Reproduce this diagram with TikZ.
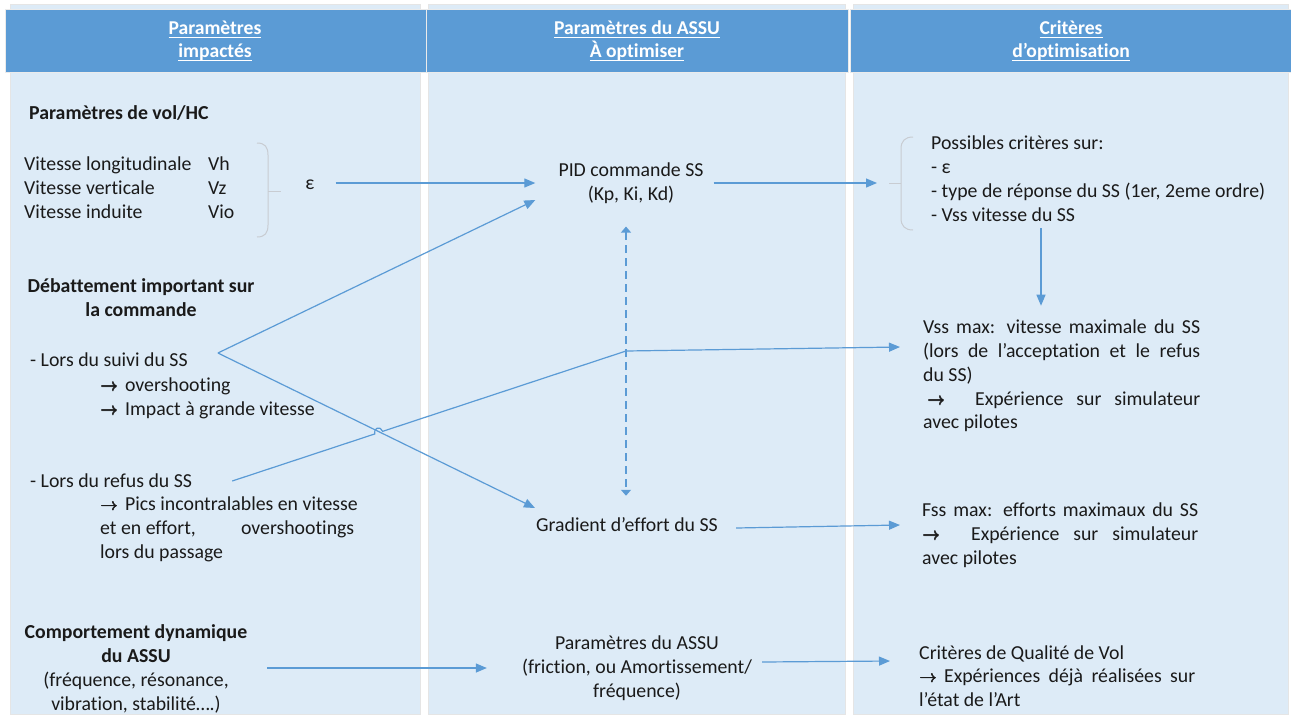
\documentclass[tikz,border=0pt]{standalone}
\usepackage{fontspec}
\setmainfont{Carlito}[Ligatures={NoCommon}]
\usetikzlibrary{arrows.meta,calc}
\definecolor{hdr}{HTML}{5B9BD5}
\definecolor{bgc}{HTML}{DDEBF7}
\definecolor{arrc}{HTML}{5B9BD5}
\definecolor{txt}{HTML}{1A1A1A}
\definecolor{brc}{HTML}{C8CCD2}
\newcommand\rarr{{\fontsize{16}{16}\selectfont\rlap{$\rightarrow$}\raisebox{0.5pt}{\rlap{$\rightarrow$}}\kern0.6pt\rlap{\raisebox{0.5pt}{$\rightarrow$}}$\rightarrow$}}
\newcommand\jl[2]{\makebox[#1][s]{#2}}
\newcommand\jt[2]{\makebox[#1][l]{#2}}
\newlength\ulw
\newcommand\ulx[1]{\settowidth{\ulw}{#1}\rlap{\rule[-3.5pt]{\ulw}{0.9pt}}#1}
\begin{document}
\begin{tikzpicture}[x=1pt,y=-1pt,
  every node/.style={font=\fontsize{19.8}{23.8}\selectfont, text=txt, inner sep=0pt},
  bt/.style={font=\fontsize{19.8}{23.8}\selectfont\bfseries},
  hdrt/.style={font=\fontsize{19.6}{23}\selectfont\bfseries, text=white, align=center},
  arr/.style={draw=arrc, line width=1.2pt, -{Triangle[length=11pt,width=9pt]}},
  dsh/.style={draw=arrc, line width=1.2pt, dash pattern=on 8pt off 5pt,
     {Triangle[length=6pt,width=10pt]}-{Triangle[length=6pt,width=10pt]}},
  brace/.style={draw=brc, line width=1pt},
  colbg/.style={fill=bgc, draw=black!10, line width=0.6pt},
  colhd/.style={fill=hdr, draw=black!8, line width=0.6pt}]
\useasboundingbox[fill=white] (0,0) rectangle (1291,716);
% columns
\path[colbg] (10,4) rectangle (420,714);
\path[colbg] (428,4) rectangle (845,714);
\path[colbg] (853,4) rectangle (1288,714);
\path[colhd] (5,9) rectangle (427,72);
\path[colhd] (426,9) rectangle (848,72);
\path[colhd] (850,9) rectangle (1291,72);
\node[hdrt] (h1) at (215,41) {\ulx{Paramètres}\\\ulx{impactés}};
\node[hdrt] (h2) at (637,41) {\ulx{Paramètres du ASSU}\\\ulx{À optimiser}};
\node[hdrt] (h3) at (1071,41) {\ulx{Critères}\\\ulx{d’optimisation}};
% column 1
\node[bt, anchor=west] (vol) at (29,113) {Paramètres de vol/HC};
\node[anchor=west] (vit) at (24,190) {\begin{tabular}{@{}p{184pt}@{}l@{}}Vitesse longitudinale & Vh\\ Vitesse verticale & Vz\\ Vitesse induite & Vio\end{tabular}};
\draw[brace] (257,143) .. controls (265,143) and (268,147) .. (268,155) -- (268,225) .. controls (268,233) and (265,237) .. (257,237);
\draw[brace] (268,191) -- (281,191);
\node (eps) at (310,185) {ε};
\node[bt, align=center] (deb) at (141,298) {Débattement important sur\\la commande};
\node[anchor=west] (suivi) at (30,360) {- Lors du suivi du SS};
\node[anchor=west, align=left] (suivib) at (100,398) {\rarr\hspace{7pt}overshooting\\\rarr\hspace{7pt}Impact à grande vitesse};
\node[anchor=west] (refus) at (30,481) {- Lors du refus du SS};
\node[anchor=west, align=left] (pics) at (100,529.5) {\rarr\hspace{7pt}Pics incontralables en vitesse\\\jt{254pt}{et en effort,\hfill overshootings}\\lors du passage};
\node[align=center] (comp) at (136,669) {\textbf{Comportement dynamique}\\\textbf{du ASSU}\\(fréquence, résonance,\\vibration, stabilité….)};
% column 2
\node[align=center] (pid) at (631,183) {PID commande SS\\(Kp, Ki, Kd)};
\node (grad) at (627,525) {Gradient d’effort du SS};
\node[align=center] (pa) at (637,668) {Paramètres du ASSU\\(friction, ou Amortissement/\\fréquence)};
% column 3
\draw[brace] (913,137) .. controls (905,137) and (901,141) .. (901,149) -- (901,218) .. controls (901,226) and (905,230) .. (913,230);
\draw[brace] (901,183) -- (889,183);
\coordinate (cbr) at (889,183);
\node[anchor=west, align=left] (crit) at (931,178.5) {Possibles critères sur:\\- ε\\- type de réponse du SS (1er, 2eme ordre)\\- Vss vitesse du SS};
\node[anchor=west, align=left] (vss) at (923,376) {\jl{277pt}{Vss max: vitesse maximale du SS}\\\jl{277pt}{(lors de l’acceptation et le refus}\\du SS)\\\jt{277pt}{\hspace{4pt}\rarr\hspace{30pt}Expérience\hfill sur\hfill simulateur}\\avec pilotes};
\node[anchor=west, align=left] (fss) at (922,535) {\jl{276pt}{Fss max: efforts maximaux du SS}\\\jt{276pt}{\rarr\hspace{31pt}Expérience\hfill sur\hfill simulateur}\\avec pilotes};
\node[anchor=west, align=left] (qual) at (919,676) {Critères de Qualité de Vol\\\jl{276pt}{\rarr\hspace{7pt}Expériences déjà réalisées sur}\\l’état de l’Art};
% connectors
\draw[arr] ($(eps.east)+(21,-2)$) -- ($(pid.west)+(-23,0)$);
\draw[arr, shorten >=12pt] ($(pid.east)+(10,0)$) -- (cbr);
\coordinate (dx) at (1041,0);
\draw[arr] ($(crit.south -| dx)+(0,7)$) -- ($(vss.north -| dx)+(0,-14)$);
\coordinate (sv) at ($(suivi.east)+(30,-7)$);
\draw[arr] (sv) -- ($(pid.west)+(-23,17)$);
\draw[arr] (sv) -- ($(grad.west)+(-1,-17)$);
% refus line with hop
\coordinate (rs) at ($(refus.east)+(40,0)$);
\coordinate (bend) at (626,351);
\coordinate (hs) at ($(rs)!0.362!(bend)$);
\coordinate (he) at ($(rs)!0.382!(bend)$);
\draw[arr] (rs) -- (hs) .. controls ($(hs)+(-2,-6)$) and ($(he)+(-2,-6)$) .. (he) -- (bend) -- ($(vss.west)+(-23,-29)$);
\coordinate (dv) at (626,0);
\draw[dsh] ($(pid.south -| dv)+(0,23)$) -- ($(grad.north -| dv)+(0,-22)$);
\draw[arr] ($(grad.east)+(18,3)$) -- ($(fss.west)+(-22,-10)$);
\draw[arr] ($(comp.east)+(20,-1)$) -- ($(pa.west)+(-35,0)$);
\draw[arr] ($(pa.east)+(10,-6)$) -- ($(qual.west)+(-29,-15)$);
\end{tikzpicture}
\end{document}
